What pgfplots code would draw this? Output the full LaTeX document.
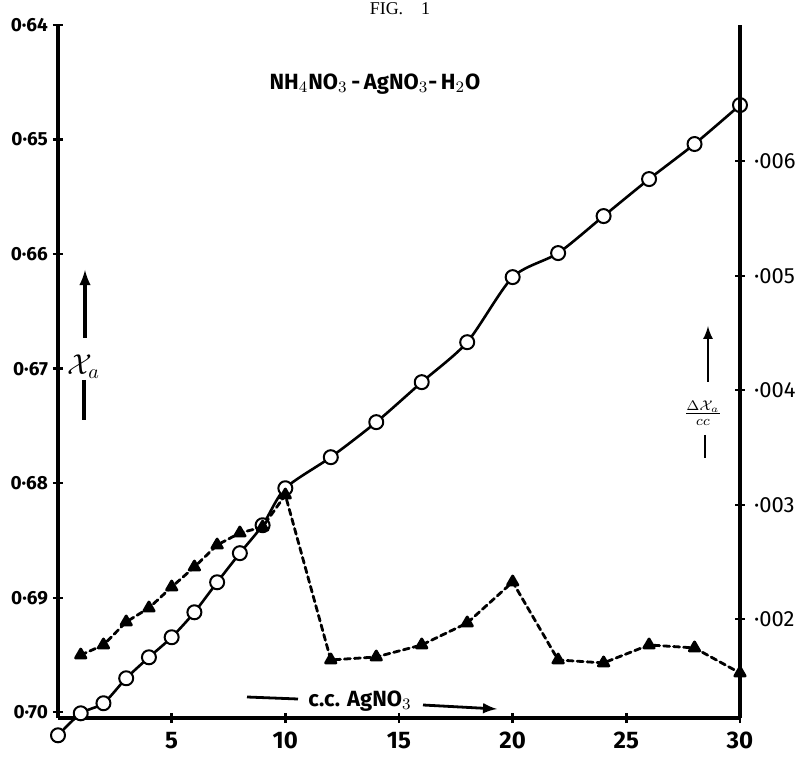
\documentclass[border=0pt]{standalone}
\usepackage{fontspec}
\setmainfont{Fira Sans}
\newfontfamily\capfont{Liberation Serif}
\usepackage{pgfplots}
\usepackage{pgfplotstable}
\pgfplotsset{compat=1.18}

\pgfplotstableread{
x y
0 0.70201
1 0.70009
2 0.69921
3 0.69703
4 0.69520
5 0.69345
6 0.69127
7 0.68865
8 0.68611
9 0.68367
10 0.68044
12 0.67773
14 0.67467
16 0.67118
18 0.66769
20 0.66201
22 0.65991
24 0.65668
26 0.65345
28 0.65039
30 0.64699
}\circdata

\pgfplotstableread{
x d
1 0.001687
2 0.001775
3 0.001976
4 0.002098
5 0.002281
6 0.002456
7 0.002648
8 0.002753
9 0.002805
10 0.003085
12 0.001644
14 0.001670
16 0.001775
18 0.001967
20 0.002325
22 0.001644
24 0.001618
26 0.001775
28 0.001749
30 0.001530
}\tridata

\begin{document}
\begin{tikzpicture}
\begin{axis}[
  at={(0,0)}, anchor=south west,
  scale only axis, width=341pt, height=346.5pt,
  xmin=0, xmax=30, ymin=0.64, ymax=0.7005, y dir=reverse,
  axis x line*=bottom, axis y line*=left,
  axis line style={line width=1.8pt, -},
  xtick={5,10,15,20,25,30}, xticklabels={5,10,15,20,25,30},
  ytick={0.64,0.65,0.66,0.67,0.68,0.69,0.70},
  yticklabels={0·64,0·65,0·66,0·67,0·68,0·69,0·70},
  scaled y ticks=false,
  tick align=center, major tick length=5pt,
  tick style={line width=1.2pt, black},
  xticklabel style={font=\fontsize{12}{13}\selectfont\bfseries, yshift=-1pt},
  yticklabel style={font=\fontsize{9.5}{11}\selectfont\bfseries, xshift=1pt},
  clip=false,
]
\addplot[black, line width=1.3pt, line join=round, smooth, tension=0.45, mark=*, mark size=3.5pt,
  mark options={fill=white, line width=1pt, solid}] table[x=x, y=y] {\circdata};
\end{axis}
\begin{axis}[
  at={(0,0)}, anchor=south west,
  scale only axis, width=341pt, height=346.5pt,
  xmin=0, xmax=30, ymin=0.001137, ymax=0.00719,
  axis y line*=right, axis x line=none,
  axis line style={line width=1.8pt, -},
  ytick={0.002,0.003,0.004,0.005,0.006},
  yticklabels={·002,·003,·004,·005,·006},
  scaled y ticks=false,
  tick align=center, major tick length=5pt,
  tick style={line width=1.2pt, black},
  yticklabel style={font=\fontsize{11}{12}\selectfont, xshift=1pt},
  clip=false,
]
\addplot[black, line width=1.4pt, line join=round, line cap=round, dash pattern=on 3pt off 2pt,
  mark=triangle*, mark size=3pt,
  mark options={fill=black, solid}] table[x=x, y=d] {\tridata};
\end{axis}
\begin{scope}[xshift=-29pt, yshift=359pt, x=0.5pt, y=-0.5pt]
  \node[font=\fontsize{11}{12}\selectfont\bfseries] at (375,84) {NH$_4$NO$_3$\,-\,AgNO$_3$-\,H$_2$O};
  \node[font=\capfont\fontsize{9}{10}\selectfont, anchor=north, inner sep=0.5pt] at (400,1) {FIG.\quad 1};
  \draw[line width=1.6pt, -latex] (85,338) -- (85,270);
  \node at (84,367) {\Large$\mathcal{X}_a$};
  \draw[line width=1.6pt] (84,380) -- (84,420);
  \draw[line width=1.2pt, -latex] (708,382) -- (708,326);
  \node at (703,413) {$\frac{\Delta\mathcal{X}_a}{cc}$};
  \draw[line width=1.2pt] (705,435) -- (705,458);
  \draw[line width=1.4pt] (247,697) -- (298,699);
  \node[font=\fontsize{11}{12}\selectfont\bfseries] at (360,701) {c.c. AgNO$_3$};
  \draw[line width=1.4pt, -latex] (423,705) -- (497,709);
  \pgfresetboundingbox
  \path (0,0) rectangle (810,762);
\end{scope}
\end{tikzpicture}
\end{document}
